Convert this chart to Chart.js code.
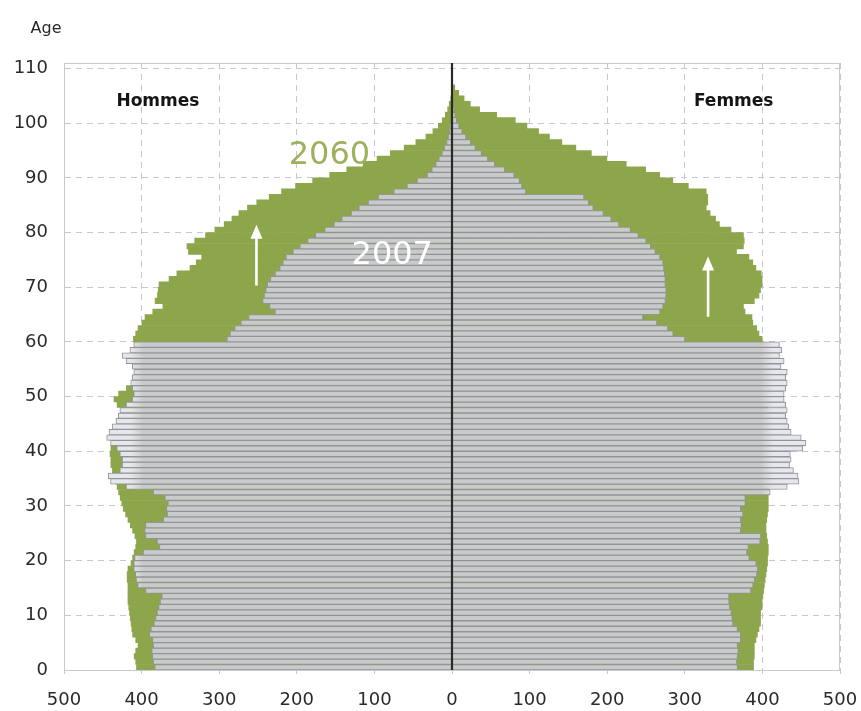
<!DOCTYPE html>
<html lang="fr">
<head>
<meta charset="UTF-8">
<title>Pyramide des âges 2007 / 2060</title>
<style>
    body { margin: 0; background: #fff; }
    #wrap { width: 861px; height: 711px; position: relative; }
</style>
<script src="https://cdn.jsdelivr.net/npm/chart.js"></script>
</head>
<body>
<div id="wrap"><canvas id="pyramide"></canvas></div>
<script>
// ages 0 .. 107
const ages = [
    0, 1, 2, 3, 4, 5, 6, 7, 8, 9,
    10, 11, 12, 13, 14, 15, 16, 17, 18, 19,
    20, 21, 22, 23, 24, 25, 26, 27, 28, 29,
    30, 31, 32, 33, 34, 35, 36, 37, 38, 39,
    40, 41, 42, 43, 44, 45, 46, 47, 48, 49,
    50, 51, 52, 53, 54, 55, 56, 57, 58, 59,
    60, 61, 62, 63, 64, 65, 66, 67, 68, 69,
    70, 71, 72, 73, 74, 75, 76, 77, 78, 79,
    80, 81, 82, 83, 84, 85, 86, 87, 88, 89,
    90, 91, 92, 93, 94, 95, 96, 97, 98, 99,
    100, 101, 102, 103, 104, 105, 106, 107
];

// effectifs (milliers)
const hommes2007 = [
    383, 385, 386, 387, 385, 386, 390, 388, 384, 382,
    380, 378, 376, 374, 395, 405, 407, 408, 410, 410,
    409, 398, 377, 380, 395, 396, 395, 372, 367, 368,
    366, 370, 385, 420, 440, 443, 428, 425, 425, 428,
    432, 440, 445, 442, 438, 433, 430, 428, 420, 412,
    410, 412, 414, 412, 410, 412, 420, 425, 415, 410,
    290, 286, 280, 272, 262, 228, 235, 244, 242, 240,
    238, 234, 228, 222, 218, 214, 205, 196, 186, 176,
    164, 152, 142, 130, 120, 108, 95, 75, 58, 45,
    32, 26, 21, 17, 13, 10, 7, 5, 3, 2,
    1, 1, 0, 0, 0, 0, 0, 0
];
const hommes2060 = [
    407, 408, 410, 408, 405, 408, 412, 413, 414, 415,
    416, 417, 418, 418, 418, 418, 419, 419, 418, 414,
    412, 410, 408, 407, 409, 412, 415, 418, 421, 424,
    426, 428, 430, 432, 434, 436, 438, 440, 440, 441,
    440, 438, 436, 432, 428, 426, 425, 427, 432, 436,
    430, 420, 412, 410, 408, 406, 405, 405, 407, 410,
    411, 408, 405, 400, 396, 386, 373, 383, 380, 379,
    378, 365, 355, 338, 330, 323, 340, 342, 332, 318,
    306, 294, 284, 275, 264, 252, 236, 220, 202, 180,
    158, 136, 115, 97, 80, 62, 47, 34, 25, 18,
    13, 9, 6, 4, 2, 1, 0, 0
];
const femmes2007 = [
    368, 367, 368, 369, 368, 372, 372, 368, 362, 361,
    360, 358, 357, 357, 385, 388, 390, 393, 394, 392,
    383, 380, 382, 397, 398, 372, 373, 372, 375, 372,
    378, 378, 410, 432, 447, 446, 440, 435, 437, 436,
    452, 456, 450, 437, 434, 432, 430, 432, 430, 428,
    428, 430, 432, 430, 432, 424, 428, 422, 425, 422,
    300, 285, 278, 264, 246, 268, 272, 275, 276, 276,
    275, 275, 274, 273, 272, 268, 262, 256, 250, 240,
    230, 215, 205, 195, 182, 176, 170, 95, 90, 87,
    80, 68, 55, 46, 38, 30, 24, 18, 13, 9,
    6, 4, 2, 1, 0, 0, 0, 0
];
const femmes2060 = [
    389, 389, 390, 390, 390, 392, 394, 396, 398, 398,
    398, 400, 400, 401, 402, 403, 404, 405, 406, 407,
    407, 408, 408, 407, 406, 405, 405, 406, 407, 408,
    408, 408, 409, 409, 410, 410, 410, 410, 410, 410,
    410, 409, 409, 408, 408, 408, 407, 407, 406, 405,
    404, 404, 403, 402, 402, 401, 401, 400, 400, 400,
    400, 396, 393, 388, 387, 378, 376, 390, 396, 398,
    400, 400, 399, 392, 388, 383, 367, 376, 377, 376,
    360, 345, 340, 333, 328, 330, 330, 328, 305, 285,
    268, 250, 225, 200, 180, 160, 142, 126, 112, 97,
    82, 58, 36, 24, 16, 9, 4, 1
];

const xTicks = [-500, -400, -300, -200, -100, 0, 100, 200, 300, 400, 500];
const yTicks = [0, 10, 20, 30, 40, 50, 60, 70, 80, 90, 100, 110];

// textes et flèches posés sur le graphique (coordonnées en valeurs)
const textes = [
    { t: 'Hommes', x: -379, y: 104, font: 'bold 17px "DejaVu Sans"', color: '#151515' },
    { t: 'Femmes', x: 363, y: 104, font: 'bold 17px "DejaVu Sans"', color: '#151515' },
    { t: '2060', x: -158, y: 94, font: '32px "DejaVu Sans"', color: '#9db05c' },
    { t: '2007', x: -77, y: 75.8, font: '32px "DejaVu Sans"', color: '#ffffff' }
];
const fleches = [
    { x: -252, de: 70.3, a: 81.4 },
    { x: 330, de: 64.6, a: 75.6 }
];

const GRIS = '#c9cacb';
const GRIS_CLAIR = '#e6e7ec';
const VERT = '#8da54b';

// remplissage gris qui pâlit au-delà de ~400 (comme dans l'original)
function fondGris(context) {
    const chart = context.chart;
    const area = chart.chartArea;
    if (!area) return GRIS;
    const sx = chart.scales.x;
    const w = area.right - area.left;
    const pos = v => Math.min(1, Math.max(0, (sx.getPixelForValue(v) - area.left) / w));
    const g = chart.ctx.createLinearGradient(area.left, 0, area.right, 0);
    g.addColorStop(0, GRIS_CLAIR);
    g.addColorStop(pos(-414), GRIS_CLAIR);
    g.addColorStop(pos(-398), GRIS);
    g.addColorStop(pos(398), GRIS);
    g.addColorStop(pos(414), GRIS_CLAIR);
    g.addColorStop(1, GRIS_CLAIR);
    return g;
}

function gauche(arr) { return arr.map((v, i) => ({ x: -v, y: ages[i] + 0.5 })); }
function droite(arr) { return arr.map((v, i) => ({ x: v, y: ages[i] + 0.5 })); }

const decor = {
    id: 'decor',
    afterDatasetsDraw(chart) {
        const { ctx, chartArea: a, scales: { x, y } } = chart;
        ctx.save();

        // cadre haut / droite
        ctx.strokeStyle = '#c9cacd';
        ctx.lineWidth = 1;
        ctx.beginPath();
        ctx.moveTo(a.left, a.top + 0.5);
        ctx.lineTo(a.right - 0.5, a.top + 0.5);
        ctx.lineTo(a.right - 0.5, a.bottom);
        ctx.stroke();

        // axe central
        const x0 = x.getPixelForValue(0);
        ctx.strokeStyle = '#2a2a2a';
        ctx.lineWidth = 2.2;
        ctx.beginPath();
        ctx.moveTo(x0, a.top);
        ctx.lineTo(x0, a.bottom);
        ctx.stroke();

        // flèches blanches
        ctx.strokeStyle = '#ffffff';
        ctx.fillStyle = '#ffffff';
        fleches.forEach(f => {
            const px = x.getPixelForValue(f.x);
            const yb = y.getPixelForValue(f.de);
            const yt = y.getPixelForValue(f.a);
            ctx.lineWidth = 2.6;
            ctx.beginPath();
            ctx.moveTo(px, yb);
            ctx.lineTo(px, yt + 10);
            ctx.stroke();
            ctx.beginPath();
            ctx.moveTo(px, yt);
            ctx.lineTo(px - 6, yt + 14);
            ctx.lineTo(px + 6, yt + 14);
            ctx.closePath();
            ctx.fill();
        });

        // textes
        ctx.textAlign = 'center';
        ctx.textBaseline = 'middle';
        textes.forEach(t => {
            ctx.font = t.font;
            ctx.fillStyle = t.color;
            ctx.fillText(t.t, x.getPixelForValue(t.x), y.getPixelForValue(t.y));
        });

        // titre de l'axe vertical
        ctx.font = '16px "DejaVu Sans"';
        ctx.fillStyle = '#2a2a2a';
        ctx.fillText('Age', a.left - 18, a.top - 34);
        ctx.restore();
    }
};

const barOpts = { grouped: false, categoryPercentage: 1.0 };

new Chart(document.getElementById('pyramide'), {
    type: 'bar',
    data: {
        datasets: [
            Object.assign({ label: 'Hommes 2007', data: gauche(hommes2007), backgroundColor: fondGris,
                borderColor: '#939496', borderWidth: 1, barPercentage: 1.0, order: 0 }, barOpts),
            Object.assign({ label: 'Femmes 2007', data: droite(femmes2007), backgroundColor: fondGris,
                borderColor: '#939496', borderWidth: 1, barPercentage: 1.0, order: 0 }, barOpts),
            Object.assign({ label: 'Hommes 2060', data: gauche(hommes2060), backgroundColor: VERT,
                borderWidth: 0, barPercentage: 1.12, order: 1 }, barOpts),
            Object.assign({ label: 'Femmes 2060', data: droite(femmes2060), backgroundColor: VERT,
                borderWidth: 0, barPercentage: 1.12, order: 1 }, barOpts)
        ]
    },
    options: {
        indexAxis: 'y',
        responsive: true,
        maintainAspectRatio: false,
        animation: false,
        layout: { padding: { top: 63, right: 21, bottom: 0, left: 0 } },
        plugins: {
            legend: { display: false },
            tooltip: { enabled: false }
        },
        scales: {
            x: {
                type: 'linear',
                min: -500,
                max: 500,
                afterFit: s => { s.height = 41; s.paddingLeft = 0; s.paddingRight = 0; },
                afterBuildTicks: s => { s.ticks = xTicks.map(v => ({ value: v })); },
                ticks: {
                    callback: v => Math.abs(v),
                    font: { family: '"DejaVu Sans"', size: 18 },
                    color: '#2a2a2a',
                    padding: 16,
                    maxRotation: 0,
                    autoSkip: false
                },
                grid: {
                    color: c => (c.tick && c.tick.value === 0) ? 'rgba(0,0,0,0)' : '#c4c8d6',
                    drawTicks: true,
                    tickLength: 4,
                    tickColor: '#c4c8d6'
                },
                border: { display: true, color: '#c9cacd', dash: [6, 5] }
            },
            y: {
                type: 'linear',
                min: 0,
                max: 111,
                offset: false,
                afterFit: s => { s.width = 64; s.paddingTop = 0; s.paddingBottom = 0; },
                afterBuildTicks: s => { s.ticks = yTicks.map(v => ({ value: v })); },
                ticks: {
                    font: { family: '"DejaVu Sans"', size: 18 },
                    color: '#2a2a2a',
                    padding: 16,
                    autoSkip: false
                },
                grid: {
                    color: '#c4c8d6',
                    drawTicks: false,
                    offset: false
                },
                border: { display: true, color: '#c9cacd', dash: [6, 5] }
            }
        }
    },
    plugins: [decor]
});
</script>
</body>
</html>
